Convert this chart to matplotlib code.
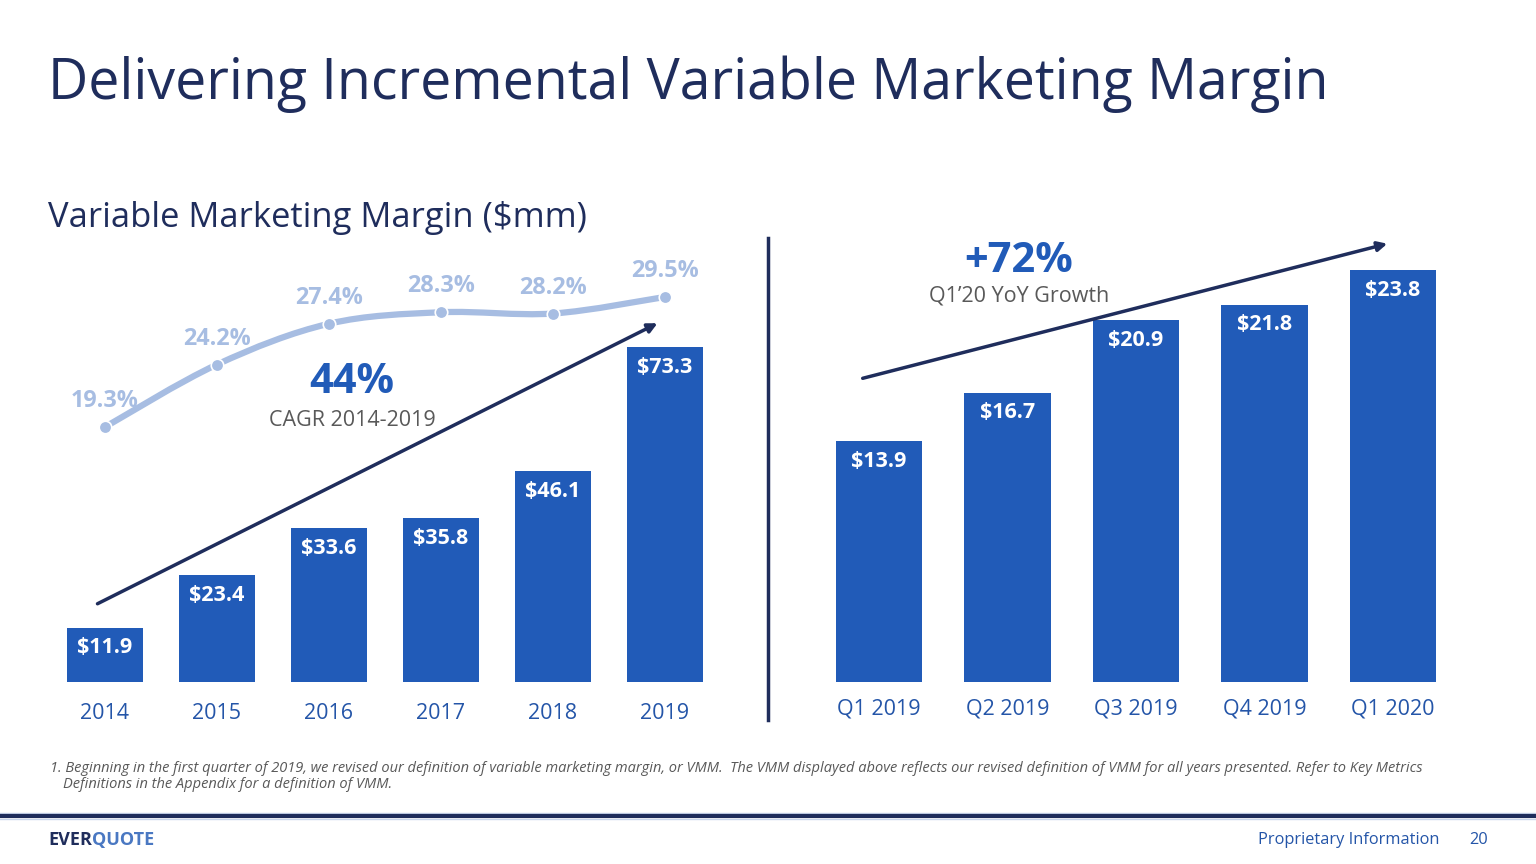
import matplotlib.pyplot as plt
from matplotlib.path import Path
from matplotlib.patches import PathPatch, FancyArrowPatch

plt.rcParams["font.family"] = ["Open Sans", "DejaVu Sans"]

# data
years = ["2014", "2015", "2016", "2017", "2018", "2019"]
annual_vmm = [11.9, 23.4, 33.6, 35.8, 46.1, 73.3]
vmm_pct = [19.3, 24.2, 27.4, 28.3, 28.2, 29.5]
quarters = ["Q1 2019", "Q2 2019", "Q3 2019", "Q4 2019", "Q1 2020"]
quarterly_vmm = [13.9, 16.7, 20.9, 21.8, 23.8]

NAVY = "#1F2D5C"
BAR = "#215BB8"
TICK = "#2455A8"
LINE = "#A7BDE2"
GREY = "#595959"

W, H = 1536, 864
fig = plt.figure(figsize=(W / 100, H / 100), dpi=100)


def px_axes(x0, y0, x1, y1):
    # axes from pixel box (top-left origin)
    return fig.add_axes([x0 / W, 1 - y1 / H, (x1 - x0) / W, (y1 - y0) / H])


# ---- titles
fig.text(48 / W, 1 - 84 / H, "Delivering Incremental Variable Marketing Margin",
         fontsize=40, color=NAVY, va="center", ha="left")
fig.text(48 / W, 1 - 218 / H, "Variable Marketing Margin ($mm)",
         fontsize=24.8, color=NAVY, va="center", ha="left")

# ---- left panel: annual bars
axL = px_axes(50, 240, 720, 682)
xs = list(range(len(years)))
axL.bar(xs, annual_vmm, width=0.67, color=BAR)
axL.set_xlim(-0.491, 5.491)
axL.set_ylim(0, 442 / 4.57)
for x, v in zip(xs, annual_vmm):
    axL.annotate(f"${v}", (x, v), xytext=(0, -20), textcoords="offset pixels",
                 ha="center", va="center", color="white", fontsize=15.5,
                 fontweight="bold")
axL.set_xticks(xs)
axL.set_xticklabels(years, color=TICK, fontsize=15.5)
axL.tick_params(length=0, pad=15)
axL.set_yticks([])
for s in axL.spines.values():
    s.set_visible(False)
axL.patch.set_alpha(0)

# percentage line on twin axis
axP = axL.twinx()
axP.set_ylim(19.3 - 255 / 12.75, 19.3 + 187 / 12.75)
axP.set_yticks([])
for s in axP.spines.values():
    s.set_visible(False)

# smooth curve through the points (Catmull-Rom -> cubic Bezier)
pts = list(zip(xs, vmm_pct))
verts = [pts[0]]
codes = [Path.MOVETO]
for i in range(len(pts) - 1):
    p0 = pts[i - 1] if i > 0 else pts[i]
    p1, p2 = pts[i], pts[i + 1]
    p3 = pts[i + 2] if i + 2 < len(pts) else pts[i + 1]
    c1 = (p1[0] + (p2[0] - p0[0]) / 6, p1[1] + (p2[1] - p0[1]) / 6)
    c2 = (p2[0] - (p3[0] - p1[0]) / 6, p2[1] - (p3[1] - p1[1]) / 6)
    verts += [c1, c2, p2]
    codes += [Path.CURVE4] * 3
axP.add_patch(PathPatch(Path(verts, codes), facecolor="none", edgecolor=LINE,
                        lw=4.5, capstyle="round"))
axP.plot(xs, vmm_pct, "o", color=LINE, ms=9, markeredgecolor="white",
         markeredgewidth=1.2)
for x, p in zip(xs, vmm_pct):
    axP.annotate(f"{p}%", (x, p), xytext=(0, 26), textcoords="offset pixels",
                 ha="center", va="center", color=LINE, fontsize=16.8,
                 fontweight="bold")

# CAGR arrow and text
fig.add_artist(FancyArrowPatch((95 / W, 1 - 605 / H), (660 / W, 1 - 322 / H),
                               transform=fig.transFigure, arrowstyle="-|>",
                               mutation_scale=14, color=NAVY, lw=2.5))
fig.text(352 / W, 1 - 383 / H, "44%", fontsize=30, fontweight="bold",
         color=BAR, ha="center", va="center")
fig.text(352 / W, 1 - 420 / H, "CAGR 2014-2019", fontsize=15.5, color=GREY,
         ha="center", va="center")

# divider
fig.add_artist(plt.Line2D([768 / W, 768 / W], [1 - 238 / H, 1 - 720 / H],
                          color=NAVY, lw=2.5))

# ---- right panel: quarterly bars
axR = px_axes(800, 240, 1472, 682)
qx = list(range(len(quarters)))
axR.bar(qx, quarterly_vmm, width=0.67, color=BAR)
axR.set_xlim(-0.615, 4.615)
axR.set_ylim(0, 442 / 17.31)
for x, v in zip(qx, quarterly_vmm):
    axR.annotate(f"${v}", (x, v), xytext=(0, -20), textcoords="offset pixels",
                 ha="center", va="center", color="white", fontsize=15.5,
                 fontweight="bold")
axR.set_xticks(qx)
axR.set_xticklabels(quarters, color=TICK, fontsize=15.5)
axR.tick_params(length=0, pad=12)
axR.set_yticks([])
for s in axR.spines.values():
    s.set_visible(False)
axR.patch.set_alpha(0)

fig.add_artist(FancyArrowPatch((860 / W, 1 - 379 / H), (1390 / W, 1 - 243 / H),
                               transform=fig.transFigure, arrowstyle="-|>",
                               mutation_scale=14, color=NAVY, lw=2.5))
fig.text(1019 / W, 1 - 262 / H, "+72%", fontsize=30, fontweight="bold",
         color=BAR, ha="center", va="center")
fig.text(1019 / W, 1 - 296 / H, "Q1\u201920 YoY Growth", fontsize=15.5,
         color=GREY, ha="center", va="center")

# ---- footnote and footer
fig.text(50 / W, 1 - 768 / H,
         "1. Beginning in the first quarter of 2019, we revised our definition of variable "
         "marketing margin, or VMM.  The VMM displayed above reflects our revised definition "
         "of VMM for all years presented. Refer to Key Metrics",
         fontsize=10.5, style="italic", color=GREY, ha="left", va="center")
fig.text(63 / W, 1 - 784 / H, "Definitions in the Appendix for a definition of VMM.",
         fontsize=10.5, style="italic", color=GREY, ha="left", va="center")

fig.add_artist(plt.Line2D([0, 1], [1 - 813 / H, 1 - 813 / H], color="#C9D6EC", lw=1))
fig.add_artist(plt.Line2D([0, 1], [1 - 816 / H, 1 - 816 / H], color=NAVY, lw=3))
fig.add_artist(plt.Line2D([0, 1], [1 - 819 / H, 1 - 819 / H], color="#C9D6EC", lw=1))

t = fig.text(48 / W, 1 - 840 / H, "EVER", fontsize=13, fontweight="bold",
             color=NAVY, ha="left", va="center")
fig.canvas.draw()
bb = t.get_window_extent()
fig.text(bb.x1 / W, 1 - 840 / H, "QUOTE", fontsize=13, fontweight="bold",
         color="#4A78C2", ha="left", va="center")
fig.text(1440 / W, 1 - 840 / H, "Proprietary Information", fontsize=11.8,
         color=TICK, ha="right", va="center")
fig.text(1488 / W, 1 - 840 / H, "20", fontsize=11.8, color=TICK,
         ha="right", va="center")

fig.savefig("out.png", dpi=100, facecolor="white")
